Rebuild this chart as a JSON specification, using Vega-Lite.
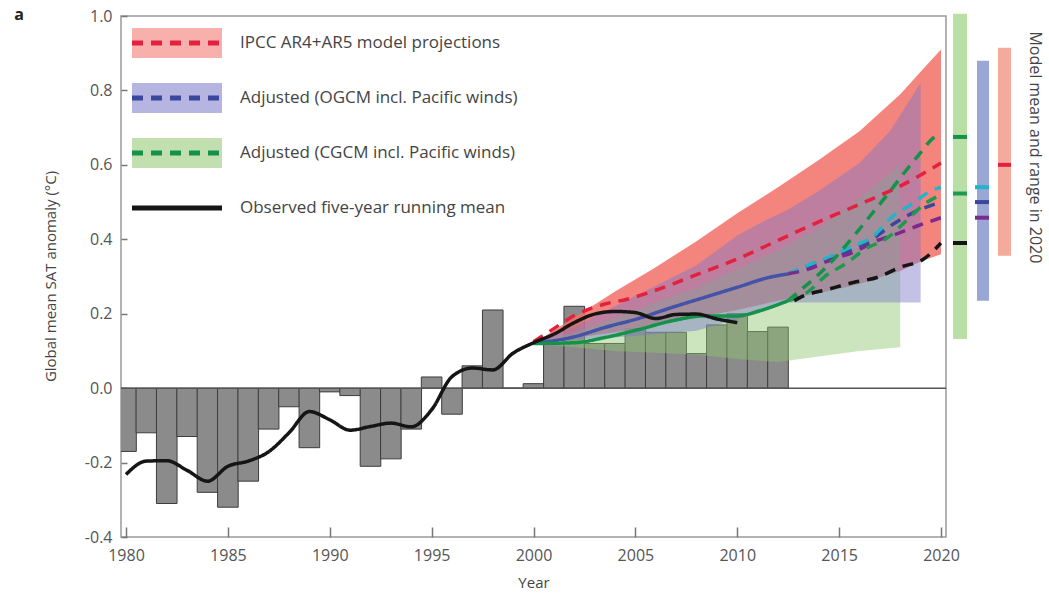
{
  "$schema": "https://vega.github.io/schema/vega-lite/v6.json",
  "width": 825,
  "height": 521,
  "autosize": {"type": "none"},
  "padding": {"left": 121, "top": 16, "right": 103, "bottom": 59},
  "background": "white",
  "config": {
    "font": "Open Sans",
    "view": {"stroke": "#9a9a9a", "strokeWidth": 1.5},
    "axis": {"labelFont": "Open Sans", "labelFontSize": 16, "labelColor": "#555", "tickColor": "#777", "tickWidth": 1.5, "titleFont": "Open Sans", "titleFontSize": 15, "titleFontWeight": "normal", "titleColor": "#444", "grid": false, "domain": false}
  },
  "datasets": {
    "bars": [
      {"year": 1980, "value": -0.17}, {"year": 1981, "value": -0.12}, {"year": 1982, "value": -0.31}, {"year": 1983, "value": -0.13},
      {"year": 1984, "value": -0.28}, {"year": 1985, "value": -0.32}, {"year": 1986, "value": -0.25}, {"year": 1987, "value": -0.11},
      {"year": 1988, "value": -0.05}, {"year": 1989, "value": -0.16}, {"year": 1990, "value": -0.01}, {"year": 1991, "value": -0.02},
      {"year": 1992, "value": -0.21}, {"year": 1993, "value": -0.19}, {"year": 1994, "value": -0.11}, {"year": 1995, "value": 0.03},
      {"year": 1996, "value": -0.07}, {"year": 1997, "value": 0.06}, {"year": 1998, "value": 0.21}, {"year": 1999, "value": 0.0},
      {"year": 2000, "value": 0.012}, {"year": 2001, "value": 0.12}, {"year": 2002, "value": 0.22}, {"year": 2003, "value": 0.12},
      {"year": 2004, "value": 0.12}, {"year": 2005, "value": 0.16}, {"year": 2006, "value": 0.15}, {"year": 2007, "value": 0.15},
      {"year": 2008, "value": 0.093}, {"year": 2009, "value": 0.17}, {"year": 2010, "value": 0.2}, {"year": 2011, "value": 0.152},
      {"year": 2012, "value": 0.164}
    ],
    "bands": [
      {"band": "IPCC AR4+AR5 model projections", "year": 2000, "lo": 0.12, "hi": 0.12},
      {"band": "IPCC AR4+AR5 model projections", "year": 2002, "lo": 0.135, "hi": 0.19},
      {"band": "IPCC AR4+AR5 model projections", "year": 2004, "lo": 0.15, "hi": 0.26},
      {"band": "IPCC AR4+AR5 model projections", "year": 2006, "lo": 0.17, "hi": 0.325},
      {"band": "IPCC AR4+AR5 model projections", "year": 2008, "lo": 0.19, "hi": 0.395},
      {"band": "IPCC AR4+AR5 model projections", "year": 2010, "lo": 0.21, "hi": 0.47},
      {"band": "IPCC AR4+AR5 model projections", "year": 2012, "lo": 0.235, "hi": 0.54},
      {"band": "IPCC AR4+AR5 model projections", "year": 2014, "lo": 0.255, "hi": 0.613},
      {"band": "IPCC AR4+AR5 model projections", "year": 2016, "lo": 0.28, "hi": 0.69},
      {"band": "IPCC AR4+AR5 model projections", "year": 2018, "lo": 0.315, "hi": 0.79},
      {"band": "IPCC AR4+AR5 model projections", "year": 2019, "lo": 0.34, "hi": 0.85},
      {"band": "IPCC AR4+AR5 model projections", "year": 2020, "lo": 0.36, "hi": 0.91},
      {"band": "Adjusted (OGCM incl. Pacific winds)", "year": 2000, "lo": 0.12, "hi": 0.12},
      {"band": "Adjusted (OGCM incl. Pacific winds)", "year": 2002, "lo": 0.13, "hi": 0.165},
      {"band": "Adjusted (OGCM incl. Pacific winds)", "year": 2004, "lo": 0.136, "hi": 0.22},
      {"band": "Adjusted (OGCM incl. Pacific winds)", "year": 2006, "lo": 0.145, "hi": 0.275},
      {"band": "Adjusted (OGCM incl. Pacific winds)", "year": 2008, "lo": 0.154, "hi": 0.33},
      {"band": "Adjusted (OGCM incl. Pacific winds)", "year": 2010, "lo": 0.185, "hi": 0.41},
      {"band": "Adjusted (OGCM incl. Pacific winds)", "year": 2011, "lo": 0.2, "hi": 0.44},
      {"band": "Adjusted (OGCM incl. Pacific winds)", "year": 2012.5, "lo": 0.23, "hi": 0.48},
      {"band": "Adjusted (OGCM incl. Pacific winds)", "year": 2014, "lo": 0.23, "hi": 0.53},
      {"band": "Adjusted (OGCM incl. Pacific winds)", "year": 2016, "lo": 0.23, "hi": 0.605},
      {"band": "Adjusted (OGCM incl. Pacific winds)", "year": 2017.5, "lo": 0.23, "hi": 0.69},
      {"band": "Adjusted (OGCM incl. Pacific winds)", "year": 2019, "lo": 0.23, "hi": 0.82},
      {"band": "Adjusted (CGCM incl. Pacific winds)", "year": 2000, "lo": 0.12, "hi": 0.12},
      {"band": "Adjusted (CGCM incl. Pacific winds)", "year": 2002, "lo": 0.11, "hi": 0.15},
      {"band": "Adjusted (CGCM incl. Pacific winds)", "year": 2004, "lo": 0.1, "hi": 0.19},
      {"band": "Adjusted (CGCM incl. Pacific winds)", "year": 2006, "lo": 0.095, "hi": 0.23},
      {"band": "Adjusted (CGCM incl. Pacific winds)", "year": 2008, "lo": 0.09, "hi": 0.27},
      {"band": "Adjusted (CGCM incl. Pacific winds)", "year": 2010, "lo": 0.078, "hi": 0.32},
      {"band": "Adjusted (CGCM incl. Pacific winds)", "year": 2012, "lo": 0.07, "hi": 0.37},
      {"band": "Adjusted (CGCM incl. Pacific winds)", "year": 2014, "lo": 0.085, "hi": 0.43},
      {"band": "Adjusted (CGCM incl. Pacific winds)", "year": 2016, "lo": 0.1, "hi": 0.51},
      {"band": "Adjusted (CGCM incl. Pacific winds)", "year": 2018, "lo": 0.11, "hi": 0.6}
    ],
    "lines": [
      {"series": "IPCC AR4+AR5 model projections", "year": 2000, "value": 0.125},
      {"series": "IPCC AR4+AR5 model projections", "year": 2001, "value": 0.16},
      {"series": "IPCC AR4+AR5 model projections", "year": 2002, "value": 0.195},
      {"series": "IPCC AR4+AR5 model projections", "year": 2003.5, "value": 0.226},
      {"series": "IPCC AR4+AR5 model projections", "year": 2004.6, "value": 0.239},
      {"series": "IPCC AR4+AR5 model projections", "year": 2006, "value": 0.263},
      {"series": "IPCC AR4+AR5 model projections", "year": 2008, "value": 0.305},
      {"series": "IPCC AR4+AR5 model projections", "year": 2010, "value": 0.347},
      {"series": "IPCC AR4+AR5 model projections", "year": 2012, "value": 0.397},
      {"series": "IPCC AR4+AR5 model projections", "year": 2014, "value": 0.447},
      {"series": "IPCC AR4+AR5 model projections", "year": 2016, "value": 0.494},
      {"series": "IPCC AR4+AR5 model projections", "year": 2018, "value": 0.543},
      {"series": "IPCC AR4+AR5 model projections", "year": 2020, "value": 0.605},
      {"series": "OGCM hindcast", "year": 2000, "value": 0.12},
      {"series": "OGCM hindcast", "year": 2002, "value": 0.138},
      {"series": "OGCM hindcast", "year": 2003.5, "value": 0.163},
      {"series": "OGCM hindcast", "year": 2005.2, "value": 0.188},
      {"series": "OGCM hindcast", "year": 2006.8, "value": 0.217},
      {"series": "OGCM hindcast", "year": 2008.4, "value": 0.244},
      {"series": "OGCM hindcast", "year": 2010, "value": 0.271},
      {"series": "OGCM hindcast", "year": 2011.6, "value": 0.298},
      {"series": "OGCM hindcast", "year": 2012.5, "value": 0.307},
      {"series": "CGCM hindcast", "year": 2000, "value": 0.12},
      {"series": "CGCM hindcast", "year": 2002, "value": 0.122},
      {"series": "CGCM hindcast", "year": 2003.5, "value": 0.136},
      {"series": "CGCM hindcast", "year": 2005.2, "value": 0.158},
      {"series": "CGCM hindcast", "year": 2006.8, "value": 0.181},
      {"series": "CGCM hindcast", "year": 2008.4, "value": 0.194},
      {"series": "CGCM hindcast", "year": 2010, "value": 0.194},
      {"series": "CGCM hindcast", "year": 2011.1, "value": 0.208},
      {"series": "CGCM hindcast", "year": 2012.5, "value": 0.235},
      {"series": "Adjusted (OGCM incl. Pacific winds)", "year": 2012.5, "value": 0.307},
      {"series": "Adjusted (OGCM incl. Pacific winds)", "year": 2013.1, "value": 0.32},
      {"series": "Adjusted (OGCM incl. Pacific winds)", "year": 2014.5, "value": 0.35},
      {"series": "Adjusted (OGCM incl. Pacific winds)", "year": 2015.6, "value": 0.372},
      {"series": "Adjusted (OGCM incl. Pacific winds)", "year": 2016.6, "value": 0.4},
      {"series": "Adjusted (OGCM incl. Pacific winds)", "year": 2017.8, "value": 0.446},
      {"series": "Adjusted (OGCM incl. Pacific winds)", "year": 2018.7, "value": 0.473},
      {"series": "Adjusted (OGCM incl. Pacific winds)", "year": 2020, "value": 0.5},
      {"series": "OGCM projection cyan", "year": 2012.5, "value": 0.307},
      {"series": "OGCM projection cyan", "year": 2013.1, "value": 0.322},
      {"series": "OGCM projection cyan", "year": 2014.5, "value": 0.352},
      {"series": "OGCM projection cyan", "year": 2015.6, "value": 0.38},
      {"series": "OGCM projection cyan", "year": 2016.6, "value": 0.405},
      {"series": "OGCM projection cyan", "year": 2017.6, "value": 0.46},
      {"series": "OGCM projection cyan", "year": 2018.6, "value": 0.496},
      {"series": "OGCM projection cyan", "year": 2019.55, "value": 0.531},
      {"series": "OGCM projection cyan", "year": 2020, "value": 0.54},
      {"series": "OGCM projection purple", "year": 2012.5, "value": 0.307},
      {"series": "OGCM projection purple", "year": 2013.5, "value": 0.32},
      {"series": "OGCM projection purple", "year": 2014.6, "value": 0.345},
      {"series": "OGCM projection purple", "year": 2015.7, "value": 0.365},
      {"series": "OGCM projection purple", "year": 2016.8, "value": 0.395},
      {"series": "OGCM projection purple", "year": 2017.8, "value": 0.414},
      {"series": "OGCM projection purple", "year": 2018.9, "value": 0.437},
      {"series": "OGCM projection purple", "year": 2020, "value": 0.458},
      {"series": "Adjusted (CGCM incl. Pacific winds)", "year": 2012.5, "value": 0.235},
      {"series": "Adjusted (CGCM incl. Pacific winds)", "year": 2013.25, "value": 0.27},
      {"series": "Adjusted (CGCM incl. Pacific winds)", "year": 2014.2, "value": 0.316},
      {"series": "Adjusted (CGCM incl. Pacific winds)", "year": 2015.8, "value": 0.414},
      {"series": "Adjusted (CGCM incl. Pacific winds)", "year": 2016.6, "value": 0.468},
      {"series": "Adjusted (CGCM incl. Pacific winds)", "year": 2017.4, "value": 0.522},
      {"series": "Adjusted (CGCM incl. Pacific winds)", "year": 2018.1, "value": 0.572},
      {"series": "Adjusted (CGCM incl. Pacific winds)", "year": 2018.9, "value": 0.626},
      {"series": "Adjusted (CGCM incl. Pacific winds)", "year": 2019.7, "value": 0.675},
      {"series": "Adjusted (CGCM incl. Pacific winds)", "year": 2020, "value": 0.68},
      {"series": "CGCM projection middle", "year": 2012.5, "value": 0.235},
      {"series": "CGCM projection middle", "year": 2013.5, "value": 0.26},
      {"series": "CGCM projection middle", "year": 2014.3, "value": 0.3},
      {"series": "CGCM projection middle", "year": 2015.3, "value": 0.334},
      {"series": "CGCM projection middle", "year": 2016.3, "value": 0.374},
      {"series": "CGCM projection middle", "year": 2017.4, "value": 0.405},
      {"series": "CGCM projection middle", "year": 2018.3, "value": 0.45},
      {"series": "CGCM projection middle", "year": 2019.2, "value": 0.495},
      {"series": "CGCM projection middle", "year": 2020, "value": 0.52},
      {"series": "CGCM projection low", "year": 2012.8, "value": 0.235},
      {"series": "CGCM projection low", "year": 2013.1, "value": 0.244},
      {"series": "CGCM projection low", "year": 2014.5, "value": 0.266},
      {"series": "CGCM projection low", "year": 2015.7, "value": 0.284},
      {"series": "CGCM projection low", "year": 2016.9, "value": 0.298},
      {"series": "CGCM projection low", "year": 2018, "value": 0.325},
      {"series": "CGCM projection low", "year": 2019.15, "value": 0.347},
      {"series": "CGCM projection low", "year": 2020, "value": 0.39},
      {"series": "Observed five-year running mean", "year": 1980, "value": -0.232},
      {"series": "Observed five-year running mean", "year": 1981, "value": -0.196},
      {"series": "Observed five-year running mean", "year": 1982, "value": -0.195},
      {"series": "Observed five-year running mean", "year": 1983, "value": -0.221},
      {"series": "Observed five-year running mean", "year": 1984, "value": -0.25},
      {"series": "Observed five-year running mean", "year": 1985, "value": -0.21},
      {"series": "Observed five-year running mean", "year": 1986, "value": -0.196},
      {"series": "Observed five-year running mean", "year": 1987, "value": -0.171},
      {"series": "Observed five-year running mean", "year": 1988, "value": -0.12},
      {"series": "Observed five-year running mean", "year": 1989, "value": -0.063},
      {"series": "Observed five-year running mean", "year": 1990, "value": -0.085},
      {"series": "Observed five-year running mean", "year": 1991, "value": -0.113},
      {"series": "Observed five-year running mean", "year": 1992, "value": -0.103},
      {"series": "Observed five-year running mean", "year": 1993, "value": -0.094},
      {"series": "Observed five-year running mean", "year": 1994, "value": -0.104},
      {"series": "Observed five-year running mean", "year": 1995, "value": -0.058},
      {"series": "Observed five-year running mean", "year": 1996, "value": 0.031},
      {"series": "Observed five-year running mean", "year": 1997, "value": 0.054},
      {"series": "Observed five-year running mean", "year": 1998, "value": 0.049},
      {"series": "Observed five-year running mean", "year": 1999, "value": 0.094},
      {"series": "Observed five-year running mean", "year": 2000, "value": 0.122},
      {"series": "Observed five-year running mean", "year": 2001, "value": 0.145},
      {"series": "Observed five-year running mean", "year": 2002, "value": 0.176},
      {"series": "Observed five-year running mean", "year": 2003, "value": 0.199},
      {"series": "Observed five-year running mean", "year": 2004, "value": 0.206},
      {"series": "Observed five-year running mean", "year": 2005, "value": 0.203},
      {"series": "Observed five-year running mean", "year": 2006, "value": 0.187},
      {"series": "Observed five-year running mean", "year": 2007, "value": 0.198},
      {"series": "Observed five-year running mean", "year": 2008, "value": 0.199},
      {"series": "Observed five-year running mean", "year": 2009, "value": 0.186},
      {"series": "Observed five-year running mean", "year": 2010, "value": 0.176}
    ],
    "ranges": [
      {"model": "CGCM", "lo": 0.132, "hi": 1.006},
      {"model": "OGCM", "lo": 0.235, "hi": 0.88},
      {"model": "IPCC", "lo": 0.356, "hi": 0.915}
    ],
    "means": [
      {"model": "CGCM", "series": "Adjusted (CGCM incl. Pacific winds)", "value": 0.675},
      {"model": "CGCM", "series": "CGCM projection middle", "value": 0.523},
      {"model": "CGCM", "series": "CGCM projection low", "value": 0.39},
      {"model": "OGCM", "series": "OGCM projection cyan", "value": 0.54},
      {"model": "OGCM", "series": "Adjusted (OGCM incl. Pacific winds)", "value": 0.5},
      {"model": "OGCM", "series": "OGCM projection purple", "value": 0.458},
      {"model": "IPCC", "series": "IPCC AR4+AR5 model projections", "value": 0.6}
    ],
    "labels": [
      {"text": "Model mean and range in 2020"}
    ],
    "panel": [
      {"text": "a"}
    ]
  },
  "layer": [
    {
      "data": {"name": "bars"},
      "mark": {"type": "bar", "width": 20.6, "clip": true, "fill": "#8b8b8b", "stroke": "#3c3c3c", "strokeWidth": 1},
      "encoding": {
        "x": {"field": "year", "type": "quantitative", "scale": {"domain": [1980, 2020], "nice": false, "zero": false},
          "axis": {"values": [1980, 1985, 1990, 1995, 2000, 2005, 2010, 2015, 2020], "format": "d", "title": "Year", "tickSize": -10, "labelPadding": 20, "titleY": 45, "titleBaseline": "middle", "labelFlush": false}},
        "y": {"field": "value", "type": "quantitative", "scale": {"domain": [-0.4, 1.0], "nice": false, "zero": false},
          "axis": {"values": [-0.4, -0.2, 0, 0.2, 0.4, 0.6, 0.8, 1.0], "labelExpr": "replace(format(datum.value, '.1f'), '\u2212', '-')", "title": "Global mean SAT anomaly (°C)", "tickSize": -6, "labelPadding": 15, "titleX": -71, "titleY": 260, "titleAngle": -90, "titleBaseline": "middle", "titleAlign": "center", "labelFlush": false}},
        "y2": {"datum": 0}
      }
    },
    {
      "data": {"name": "bands"},
      "transform": [{"filter": "datum.band === 'IPCC AR4+AR5 model projections'"}],
      "mark": {"type": "area", "fillOpacity": 0.85},
      "encoding": {
        "x": {"field": "year", "type": "quantitative", "scale": {"domain": [1980, 2020], "nice": false, "zero": false}},
        "y": {"field": "hi", "type": "quantitative", "scale": {"domain": [-0.4, 1.0], "nice": false, "zero": false}},
        "y2": {"field": "lo"},
        "fill": {"field": "band", "type": "nominal",
          "scale": {"domain": ["IPCC AR4+AR5 model projections", "Adjusted (OGCM incl. Pacific winds)", "Adjusted (CGCM incl. Pacific winds)", "Observed five-year running mean"], "range": ["#f26f67", "#7a78c8", "#90c56f", "rgba(0,0,0,0)"]},
          "legend": {"title": null, "orient": "none", "legendX": 41, "legendY": 12, "padding": 0, "symbolType": "M-3,-1H3V1H-3Z", "symbolSize": 900, "symbolStrokeWidth": 0, "symbolOpacity": 0.55, "rowPadding": 25, "labelOffset": 48, "labelFontSize": 17, "labelColor": "#444", "labelFont": "Open Sans", "labelLimit": 500}}
      }
    },
    {
      "data": {"name": "bands"},
      "transform": [{"filter": "datum.band === 'Adjusted (CGCM incl. Pacific winds)'"}],
      "mark": {"type": "area", "fillOpacity": 0.45},
      "encoding": {
        "x": {"field": "year", "type": "quantitative", "scale": {"domain": [1980, 2020], "nice": false, "zero": false}},
        "y": {"field": "hi", "type": "quantitative", "scale": {"domain": [-0.4, 1.0], "nice": false, "zero": false}},
        "y2": {"field": "lo"},
        "fill": {"field": "band", "type": "nominal",
          "scale": {"domain": ["IPCC AR4+AR5 model projections", "Adjusted (OGCM incl. Pacific winds)", "Adjusted (CGCM incl. Pacific winds)", "Observed five-year running mean"], "range": ["#f26f67", "#7a78c8", "#90c56f", "rgba(0,0,0,0)"]},
          "legend": {"title": null, "orient": "none", "legendX": 41, "legendY": 12, "padding": 0, "symbolType": "M-3,-1H3V1H-3Z", "symbolSize": 900, "symbolStrokeWidth": 0, "symbolOpacity": 0.55, "rowPadding": 25, "labelOffset": 48, "labelFontSize": 17, "labelColor": "#444", "labelFont": "Open Sans", "labelLimit": 500}}
      }
    },
    {
      "data": {"name": "bands"},
      "transform": [{"filter": "datum.band === 'Adjusted (OGCM incl. Pacific winds)'"}],
      "mark": {"type": "area", "fillOpacity": 0.45},
      "encoding": {
        "x": {"field": "year", "type": "quantitative", "scale": {"domain": [1980, 2020], "nice": false, "zero": false}},
        "y": {"field": "hi", "type": "quantitative", "scale": {"domain": [-0.4, 1.0], "nice": false, "zero": false}},
        "y2": {"field": "lo"},
        "fill": {"field": "band", "type": "nominal",
          "scale": {"domain": ["IPCC AR4+AR5 model projections", "Adjusted (OGCM incl. Pacific winds)", "Adjusted (CGCM incl. Pacific winds)", "Observed five-year running mean"], "range": ["#f26f67", "#7a78c8", "#90c56f", "rgba(0,0,0,0)"]},
          "legend": {"title": null, "orient": "none", "legendX": 41, "legendY": 12, "padding": 0, "symbolType": "M-3,-1H3V1H-3Z", "symbolSize": 900, "symbolStrokeWidth": 0, "symbolOpacity": 0.55, "rowPadding": 25, "labelOffset": 48, "labelFontSize": 17, "labelColor": "#444", "labelFont": "Open Sans", "labelLimit": 500}}
      }
    },
    {
      "data": {"name": "panel"},
      "mark": {"type": "rule", "stroke": "#555", "strokeWidth": 1.5},
      "encoding": {"y": {"datum": 0, "type": "quantitative", "scale": {"domain": [-0.4, 1.0], "nice": false, "zero": false}}}
    },
    {
      "data": {"name": "lines"},
      "mark": {"type": "line", "strokeWidth": 3.5, "strokeCap": "butt", "interpolate": "monotone"},
      "encoding": {
        "x": {"field": "year", "type": "quantitative", "scale": {"domain": [1980, 2020], "nice": false, "zero": false}},
        "y": {"field": "value", "type": "quantitative", "scale": {"domain": [-0.4, 1.0], "nice": false, "zero": false}},
        "stroke": {"field": "series", "type": "nominal",
          "scale": {"domain": ["IPCC AR4+AR5 model projections", "Adjusted (OGCM incl. Pacific winds)", "Adjusted (CGCM incl. Pacific winds)", "Observed five-year running mean", "OGCM hindcast", "CGCM hindcast", "OGCM projection cyan", "OGCM projection purple", "CGCM projection middle", "CGCM projection low"],
                    "range": ["#e3213f", "#39479c", "#14924a", "#151515", "#4452a8", "#15924a", "#22b4c8", "#7a2a8c", "#1e9a50", "#151515"]},
          "legend": {"title": null, "orient": "none", "legendX": 38.5, "legendY": 9.5, "padding": 0, "symbolType": "M-3,0H3", "symbolSize": 900, "symbolStrokeWidth": 5, "rowPadding": 27, "labelExpr": "''", "labelFontSize": 16, "labelLimit": 500,
                     "values": ["IPCC AR4+AR5 model projections", "Adjusted (OGCM incl. Pacific winds)", "Adjusted (CGCM incl. Pacific winds)", "Observed five-year running mean"]}},
        "strokeDash": {"field": "series", "type": "nominal",
          "scale": {"domain": ["IPCC AR4+AR5 model projections", "Adjusted (OGCM incl. Pacific winds)", "Adjusted (CGCM incl. Pacific winds)", "Observed five-year running mean", "OGCM hindcast", "CGCM hindcast", "OGCM projection cyan", "OGCM projection purple", "CGCM projection middle", "CGCM projection low"],
                    "range": [[11, 8], [11, 8], [11, 8], [1, 0], [1, 0], [1, 0], [11, 8], [11, 8], [11, 8], [11, 8]]},
          "legend": {"title": null, "orient": "none", "legendX": 38.5, "legendY": 9.5, "padding": 0, "symbolType": "M-3,0H3", "symbolSize": 900, "symbolStrokeWidth": 5, "rowPadding": 27, "labelExpr": "''", "labelFontSize": 16, "labelLimit": 500,
                     "values": ["IPCC AR4+AR5 model projections", "Adjusted (OGCM incl. Pacific winds)", "Adjusted (CGCM incl. Pacific winds)", "Observed five-year running mean"]}}
      }
    },
    {
      "data": {"name": "ranges"},
      "transform": [{"filter": "datum.model === 'CGCM'"}],
      "mark": {"type": "rect", "fill": "#b9dea6", "xOffset": 12, "x2Offset": 26},
      "encoding": {
        "x": {"datum": 2020, "type": "quantitative", "scale": {"domain": [1980, 2020], "nice": false, "zero": false}},
        "x2": {"datum": 2020},
        "y": {"field": "hi", "type": "quantitative", "scale": {"domain": [-0.4, 1.0], "nice": false, "zero": false}},
        "y2": {"field": "lo"}
      }
    },
    {
      "data": {"name": "ranges"},
      "transform": [{"filter": "datum.model === 'OGCM'"}],
      "mark": {"type": "rect", "fill": "#9aa6d6", "xOffset": 36, "x2Offset": 48},
      "encoding": {
        "x": {"datum": 2020, "type": "quantitative", "scale": {"domain": [1980, 2020], "nice": false, "zero": false}},
        "x2": {"datum": 2020},
        "y": {"field": "hi", "type": "quantitative", "scale": {"domain": [-0.4, 1.0], "nice": false, "zero": false}},
        "y2": {"field": "lo"}
      }
    },
    {
      "data": {"name": "ranges"},
      "transform": [{"filter": "datum.model === 'IPCC'"}],
      "mark": {"type": "rect", "fill": "#f5ab9c", "xOffset": 57, "x2Offset": 70},
      "encoding": {
        "x": {"datum": 2020, "type": "quantitative", "scale": {"domain": [1980, 2020], "nice": false, "zero": false}},
        "x2": {"datum": 2020},
        "y": {"field": "hi", "type": "quantitative", "scale": {"domain": [-0.4, 1.0], "nice": false, "zero": false}},
        "y2": {"field": "lo"}
      }
    },
    {
      "data": {"name": "means"},
      "transform": [{"filter": "datum.model === 'CGCM'"}],
      "mark": {"type": "rule", "strokeWidth": 4, "xOffset": 12, "x2Offset": 26},
      "encoding": {
        "x": {"datum": 2020, "type": "quantitative", "scale": {"domain": [1980, 2020], "nice": false, "zero": false}},
        "x2": {"datum": 2020},
        "y": {"field": "value", "type": "quantitative", "scale": {"domain": [-0.4, 1.0], "nice": false, "zero": false}},
        "stroke": {"field": "series", "type": "nominal"}
      }
    },
    {
      "data": {"name": "means"},
      "transform": [{"filter": "datum.model === 'OGCM'"}],
      "mark": {"type": "rule", "strokeWidth": 4, "xOffset": 34, "x2Offset": 48},
      "encoding": {
        "x": {"datum": 2020, "type": "quantitative", "scale": {"domain": [1980, 2020], "nice": false, "zero": false}},
        "x2": {"datum": 2020},
        "y": {"field": "value", "type": "quantitative", "scale": {"domain": [-0.4, 1.0], "nice": false, "zero": false}},
        "stroke": {"field": "series", "type": "nominal"}
      }
    },
    {
      "data": {"name": "means"},
      "transform": [{"filter": "datum.model === 'IPCC'"}],
      "mark": {"type": "rule", "strokeWidth": 4, "xOffset": 57, "x2Offset": 70},
      "encoding": {
        "x": {"datum": 2020, "type": "quantitative", "scale": {"domain": [1980, 2020], "nice": false, "zero": false}},
        "x2": {"datum": 2020},
        "y": {"field": "value", "type": "quantitative", "scale": {"domain": [-0.4, 1.0], "nice": false, "zero": false}},
        "stroke": {"field": "series", "type": "nominal"}
      }
    },
    {
      "data": {"name": "labels"},
      "mark": {"type": "text", "angle": 90, "xOffset": 94, "align": "center", "baseline": "middle", "fontSize": 16, "fill": "#444", "font": "Open Sans"},
      "encoding": {
        "x": {"datum": 2020, "type": "quantitative", "scale": {"domain": [1980, 2020], "nice": false, "zero": false}},
        "y": {"datum": 0.647, "type": "quantitative", "scale": {"domain": [-0.4, 1.0], "nice": false, "zero": false}},
        "text": {"field": "text", "type": "nominal"}
      }
    },
    {
      "data": {"name": "panel"},
      "mark": {"type": "text", "xOffset": -107, "yOffset": -1, "align": "center", "baseline": "middle", "fontSize": 16, "fontWeight": "bold", "fill": "#222", "font": "Open Sans"},
      "encoding": {
        "x": {"datum": 1980, "type": "quantitative", "scale": {"domain": [1980, 2020], "nice": false, "zero": false}},
        "y": {"datum": 1.0, "type": "quantitative", "scale": {"domain": [-0.4, 1.0], "nice": false, "zero": false}},
        "text": {"field": "text", "type": "nominal"}
      }
    }
  ]
}
